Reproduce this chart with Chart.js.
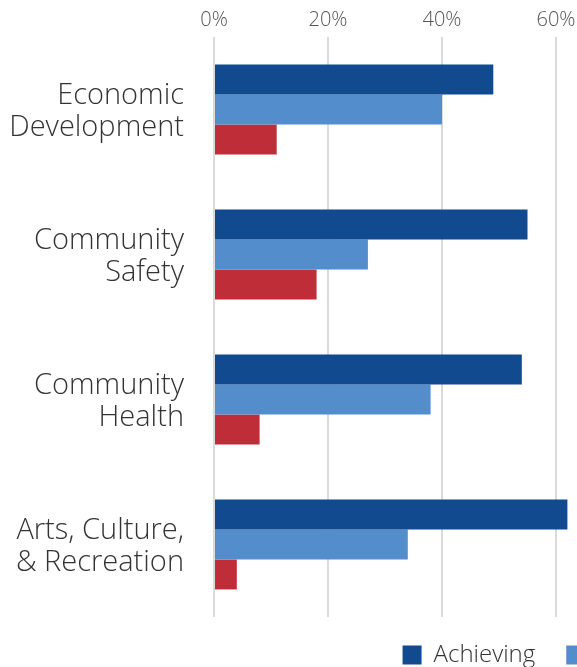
<!DOCTYPE html>
<html>
<head>
<meta charset="utf-8">
<script src="https://cdn.jsdelivr.net/npm/chart.js@4"></script>
<style>
  html, body { margin: 0; padding: 0; background: #fff; overflow: hidden; }
  #wrap { width: 577px; height: 667px; overflow: hidden; }
</style>
</head>
<body>
<div id="wrap">
  <canvas id="chartMetas" width="1336" height="682"></canvas>
</div>
<script>
// Categorias y valores (%)
const categorias = [
	["Economic", "Development"],
	["Community", "Safety"],
	["Community", "Health"],
	["Arts, Culture,", "& Recreation"]
];
const achieving = [49, 55, 54, 62];
const progressing = [40, 27, 38, 34];
const notAchieving = [11, 18, 8, 4];
const ticksX = [0, 20, 40, 60, 80];

const FONT = "'Open Sans', sans-serif";
const AREA_LEFT = 214;
const AREA_RIGHT = 670;
const CANVAS_W = 1336;
const LEGEND_UP = 5;

// sube un poco la leyenda sin tocar el espacio entre items
const subirLeyenda = {
	id: 'subirLeyenda',
	afterLayout: (chart) => {
		chart.legend.top -= LEGEND_UP;
		chart.legend.bottom -= LEGEND_UP;
	}
};

// @ts-expect-error
const chartMetas = new Chart(
	document.getElementById('chartMetas'),
	{
		type: 'bar',
		data: {
			labels: categorias,
			datasets: [{
				label: 'Achieving',
				backgroundColor: '#114a8f',
				data: achieving,
			}, {
				label: 'Progressing',
				backgroundColor: '#548dcb',
				data: progressing,
			}, {
				label: 'Not Achieving',
				backgroundColor: '#bf2d38',
				data: notAchieving,
			}]
		},
		plugins: [subirLeyenda],
		options: {
			indexAxis: 'y',
			responsive: false,
			animation: false,
			categoryPercentage: 0.62,
			barPercentage: 1,
			layout: { padding: 0 },
			plugins: {
				legend: {
					position: 'bottom',
					labels: {
						boxWidth: 19,
						boxHeight: 19,
						padding: 31,
						color: '#333',
						font: { family: FONT, size: 24, weight: 300 }
					}
				},
				tooltip: { enabled: false }
			},
			scales: {
				x: {
					position: 'top',
					min: 0,
					max: 80,
					afterBuildTicks: (scale) => {
						scale.ticks = ticksX.map(v => ({ value: v }));
					},
					afterFit: (scale) => {
						scale.height = 37;
						scale.paddingLeft = 0;
						scale.paddingRight = 0;
					},
					grid: { color: '#dadada', lineWidth: 2, drawTicks: false },
					border: { display: false },
					ticks: {
						padding: 5,
						color: '#555',
						font: { family: FONT, size: 20, weight: 300 },
						callback: (v) => v + '%'
					}
				},
				y: {
					afterFit: (scale) => {
						scale.width = AREA_LEFT;
						// sin relleno extra por las etiquetas de dos lineas
						scale.paddingTop = 0;
						scale.paddingBottom = 0;
					},
					grid: { display: false },
					border: { display: false },
					ticks: {
						padding: 22,
						labelOffset: 2,
						color: '#333',
						font: { family: FONT, size: 29, weight: 300, lineHeight: 1.1 }
					}
				},
				// eje vacio para reservar el lado derecho
				yDer: {
					type: 'category',
					position: 'right',
					labels: categorias,
					afterFit: (scale) => {
						scale.width = CANVAS_W - AREA_RIGHT;
						scale.paddingTop = 0;
						scale.paddingBottom = 0;
					},
					grid: { display: false },
					border: { display: false },
					ticks: { display: false }
				}
			}
		}
	}
);
</script>
</body>
</html>
